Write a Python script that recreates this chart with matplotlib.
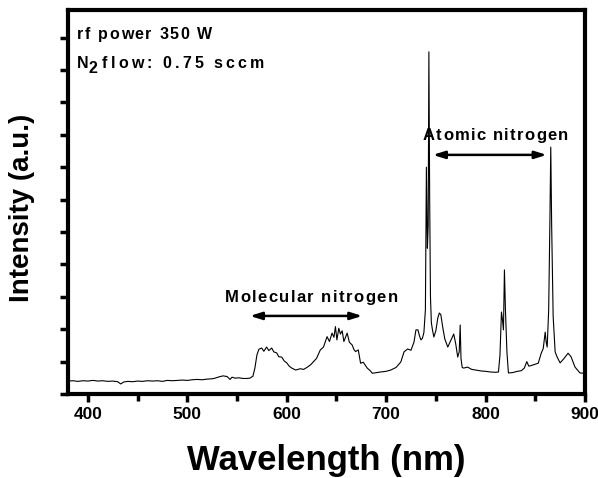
import matplotlib
matplotlib.use("Agg")
import matplotlib.pyplot as plt
import matplotlib.transforms as mtransforms
from matplotlib.font_manager import FontProperties

# ---- data ----
wavelength = [380, 385, 390, 395, 400, 405, 410, 415, 420, 425, 430, 433, 436, 440, 445,
              450, 455, 460, 465, 470, 475, 480, 485, 490, 495, 500, 505, 510, 515, 520,
              525, 528, 532, 536, 540, 543, 545, 548, 552, 556, 560, 563, 566, 568, 570,
              572, 574.8, 577, 579.8, 582, 584.9, 587, 589.9, 592, 595, 597.5, 600.1, 602.5,
              605.1, 609, 613.6, 617, 620.3, 624, 627, 630, 633.8, 637, 640.6, 643, 645.6,
              647.5, 649, 650.5, 652.4, 654, 655.8, 657.5, 660.8, 663, 665.9, 667.5, 669.2,
              672, 674.3, 677, 681, 684, 686.1, 690, 694.5, 700, 704.7, 710, 714.8, 718,
              721.6, 725, 728, 730, 732, 733.5, 735, 736.5, 738, 739.5, 740.5, 741.5, 742.3,
              743, 743.8, 744.6, 745.5, 746.5, 748, 750, 752, 753.5, 755, 757, 759, 762,
              765, 768, 770, 772, 773.5, 774.5, 775.3, 776.5, 778, 782, 786, 790, 796, 800,
              805, 810, 813, 814.5, 816, 817, 818, 819, 820, 821.5, 823, 827, 832, 836, 839,
              841.5, 843.5, 846, 850, 853, 856, 858, 860, 861, 862, 863.5, 864.8, 865.6,
              866.5, 868, 870, 872, 875, 879, 883, 886, 890, 895, 900]
intensity = [0.40, 0.41, 0.39, 0.41, 0.40, 0.42, 0.40, 0.41, 0.39, 0.40, 0.38, 0.31, 0.37, 0.39, 0.38,
             0.40, 0.39, 0.41, 0.40, 0.41, 0.39, 0.42, 0.41, 0.42, 0.43, 0.42, 0.44, 0.45, 0.44, 0.46,
             0.47, 0.49, 0.53, 0.56, 0.54, 0.45, 0.52, 0.49, 0.50, 0.48, 0.48, 0.49, 0.55, 0.80, 1.20,
             1.38, 1.42, 1.32, 1.45, 1.34, 1.42, 1.30, 1.27, 1.15, 1.14, 1.02, 0.96, 0.86,
             0.80, 0.74, 0.78, 0.76, 0.82, 0.90, 1.00, 1.10, 1.36, 1.45, 1.77, 1.62, 1.88,
             1.75, 2.08, 1.67, 2.03, 1.85, 1.95, 1.62, 1.88, 1.60, 1.51, 1.38, 1.31,
             1.36, 0.95, 0.98, 0.80, 0.72, 0.64, 0.66, 0.68, 0.70, 0.74, 0.82, 0.99, 1.30,
             1.39, 1.35, 1.60, 1.98, 1.98, 1.80, 1.67, 1.72, 1.90, 2.60, 7.00, 4.50, 5.20,
             10.56, 6.00, 3.00, 2.20, 2.00, 1.76, 1.95, 2.35, 2.50, 2.45, 2.05, 1.70, 1.45,
             1.65, 1.85, 1.55, 1.14, 1.30, 2.13, 1.10, 0.82, 0.80, 0.83, 0.76, 0.74, 0.71, 0.70,
             0.68, 0.67, 0.68, 1.20, 2.53, 2.30, 1.98, 3.83, 2.60, 1.30, 0.65, 0.66, 0.70, 0.72, 0.80,
             1.00, 0.86, 0.88, 0.92, 0.95, 1.26, 1.40, 1.91, 1.60, 1.45, 2.60, 5.50, 7.62,
             5.20, 2.40, 1.30, 1.14, 0.96, 1.10, 1.26, 1.15, 0.83, 0.65, 0.64]

xticks = [400, 500, 600, 700, 800, 900]
xtick_labels = ["400", "500", "600", "700", "800", "900"]
yticks = list(range(0, 12))

FONT = "Liberation Sans"

fig = plt.figure(figsize=(5.98, 4.78), dpi=100)
ax = fig.add_axes([0.1137, 0.1757, 0.8645, 0.8033])
renderer = fig.canvas.get_renderer()

ax.plot(wavelength, intensity, color="black", lw=0.8)

ax.set_xlim(380, 900)
ax.set_ylim(0, 11.85)

ax.set_xticks(xticks)
ax.set_xticklabels(xtick_labels, fontfamily=FONT, fontweight="bold", fontsize=12.5)
ax.set_xticks([450, 550, 650, 750, 850], minor=True)
ax.set_yticks(yticks)
ax.set_yticklabels([])

ax.tick_params(axis="x", which="major", direction="out", length=6, width=2.5, pad=3,
               top=False, bottom=True)
ax.tick_params(axis="x", which="minor", direction="out", length=5, width=2.5,
               top=False, bottom=True)
ax.tick_params(axis="y", which="major", direction="out", length=6, width=2.5,
               left=True, right=False)

for s in ax.spines.values():
    s.set_linewidth(3)


def tracked(x, y, s, size, track, transform):
    """Draw bold text with extra letter spacing (track, in pixels)."""
    prop = FontProperties(family=FONT, weight="bold", size=size)
    wx = renderer.get_text_width_height_descent("x", prop, ismath=False)[0]

    def width(t):
        if not t:
            return 0.0
        return renderer.get_text_width_height_descent(t + "x", prop, ismath=False)[0] - wx

    for i, ch in enumerate(s):
        if ch == " ":
            continue
        dx = width(s[:i]) + i * track
        tr = mtransforms.offset_copy(transform, fig=fig, x=dx, y=0, units="dots")
        ax.text(x, y, ch, transform=tr, fontproperties=prop, color="black",
                va="baseline", ha="left")


# annotations
tracked(0.0174, 0.9245, "rf power 350 W", 11.5, 1.6, ax.transAxes)
tracked(0.0174, 0.849, "N", 11.5, 0, ax.transAxes)
tracked(0.0395, 0.836, "2", 11.5, 0, ax.transAxes)
tracked(0.0658, 0.849, "flow: 0.75 sccm", 11.5, 3.1, ax.transAxes)

tracked(737, 7.84, "Atomic nitrogen", 12, 1.3, ax.transData)
tracked(537.6, 2.84, "Molecular nitrogen", 12, 1.45, ax.transData)

akw = dict(arrowstyle="<|-|>,head_length=0.7,head_width=0.22", color="black", lw=1.8,
           shrinkA=0, shrinkB=0)
ax.annotate("", xy=(747, 7.38), xytext=(861.5, 7.38), arrowprops=akw)
ax.annotate("", xy=(563, 2.41), xytext=(676, 2.41), arrowprops=akw)

fig.text(326 / 598, 1 - 470 / 478, "Wavelength (nm)", ha="center", va="baseline",
         fontfamily=FONT, fontweight="bold", fontsize=25)
fig.text(22 / 598, 1 - 208 / 478, "Intensity (a.u.)", ha="center", va="center",
         rotation=90, fontfamily=FONT, fontweight="bold", fontsize=20)

fig.savefig("out.png", dpi=100)
